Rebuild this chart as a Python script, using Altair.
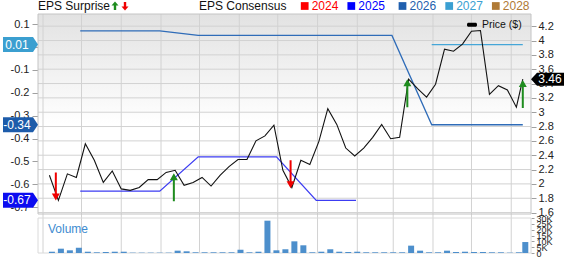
import altair as alt
import pandas as pd

# ---------------- data ----------------
price_dates = [
    "2025-06-06", "2025-06-13", "2025-06-20", "2025-06-27",
    "2025-07-04", "2025-07-11", "2025-07-18", "2025-07-25",
    "2025-08-01", "2025-08-08", "2025-08-15", "2025-08-22", "2025-08-29",
    "2025-09-05", "2025-09-12", "2025-09-19", "2025-09-26",
    "2025-10-03", "2025-10-10", "2025-10-17", "2025-10-24", "2025-10-31",
    "2025-11-07", "2025-11-14", "2025-11-21", "2025-11-28",
    "2025-12-05", "2025-12-12", "2025-12-19", "2025-12-26",
    "2026-01-02", "2026-01-09", "2026-01-16", "2026-01-23", "2026-01-30",
    "2026-02-06", "2026-02-13", "2026-02-20", "2026-02-27",
    "2026-03-06", "2026-03-13", "2026-03-20", "2026-03-27",
    "2026-04-03", "2026-04-10", "2026-04-17", "2026-04-24",
    "2026-05-01", "2026-05-08", "2026-05-15", "2026-05-22", "2026-05-29",
    "2026-06-05", "2026-06-10",
]
price_values = [
    2.12, 1.77, 2.14, 2.09, 2.56, 2.33, 2.02, 2.18, 1.93, 1.91,
    1.95, 2.06, 2.06, 2.16, 2.19, 1.98, 2.02, 2.09, 1.97, 2.12,
    2.24, 2.34, 2.34, 2.60, 2.67, 2.82, 2.19, 1.95, 2.33, 2.27,
    2.59, 3.05, 2.83, 2.50, 2.39, 2.50, 2.65, 2.83, 2.63, 2.65,
    3.46, 3.33, 3.21, 3.39, 3.88, 3.85, 3.95, 4.13, 4.14, 3.25,
    3.37, 3.31, 3.07, 3.46,
]
volume_values = [
    1100, 3700, 2300, 4500, 1100, 600, 850, 1100, 1100, 300,
    300, 300, 300, 300, 2000, 1450, 600, 600, 600, 600,
    600, 2800, 600, 1100, 27700, 2300, 3200, 10000, 6600, 600,
    1100, 3200, 1100, 850, 1100, 600, 600, 600, 600, 600,
    6300, 2000, 600, 600, 2000, 850, 1100, 850, 850, 600,
    600, 300, 600, 9400,
]

consensus_dates = {
    "2025": ["2025-06-30", "2025-07-31", "2025-08-31", "2025-09-30",
             "2025-10-31", "2025-11-30", "2025-12-31", "2026-01-31"],
    "2026": ["2025-06-30", "2025-07-31", "2025-08-31", "2025-09-30",
             "2025-10-31", "2025-11-30", "2025-12-31", "2026-01-31",
             "2026-02-28", "2026-03-31", "2026-04-30", "2026-05-31", "2026-06-10"],
    "2027": ["2026-03-31", "2026-04-30", "2026-05-31", "2026-06-10"],
}
consensus_values = {
    "2025": [-0.63, -0.63, -0.63, -0.48, -0.48, -0.48, -0.67, -0.67],
    "2026": [0.07, 0.07, 0.07, 0.05, 0.05, 0.05, 0.05, 0.05, 0.05,
             -0.34, -0.34, -0.34, -0.34],
    "2027": [0.01, 0.01, 0.01, 0.01],
}

surprise_dates = ["2025-06-11", "2025-09-11", "2025-12-11", "2026-03-12", "2026-06-10"]
surprise_price = [1.77, 2.15, 1.94, 3.46, 3.45]
surprise_dir = ["down", "up", "down", "up", "up"]

badge_years = ["2027", "2026", "2025"]
badge_values = [0.01, -0.34, -0.67]
badge_labels = ["0.01", "-0.34", "-0.67"]
last_price = 3.46
last_price_label = "3.46"

legend_years = ["2024", "2025", "2026", "2027", "2028"]

month_ticks = ["2025-06-01", "2025-07-01", "2025-08-01", "2025-09-01", "2025-10-01",
               "2025-11-01", "2025-12-01", "2026-01-01", "2026-02-01", "2026-03-01",
               "2026-04-01", "2026-05-01", "2026-06-01"]
price_ticks = [1.6, 1.8, 2, 2.2, 2.4, 2.6, 2.8, 3, 3.2, 3.4, 3.6, 3.8, 4, 4.2]
eps_ticks = [0.1, 0, -0.1, -0.2, -0.3, -0.4, -0.5, -0.6, -0.7]
volume_ticks = [0, 5000, 10000, 15000, 20000, 25000, 30000]

# ---------------- styles ----------------
YEAR_COLORS = {"2024": "#ff0000", "2025": "#0000ff", "2026": "#1f5fae",
               "2027": "#3a9fd2", "2028": "#b07a35"}
LINE_COLORS = {"2025": "#3c3cf2", "2026": "#2f6cb8", "2027": "#45a6d8"}
BADGE_COLORS = {"2025": "#0c0cf0", "2026": "#1d5caa", "2027": "#3b9fd0"}
GREEN = "#1e8c1e"
RED = "#f00000"
GRID = "#d2d2d2"

W, H = 493, 239
PH = 200          # price panel height
VT = 204          # volume panel top

UP = "M0,0 L4,7 L1,7 L1,28 L-1,28 L-1,7 L-4,7 Z"
DOWN = "M0,0 L4,-7 L1,-7 L1,-28 L-1,-28 L-1,-7 L-4,-7 Z"
UP_S = "M0,-4.5 L3.5,-0.5 L1.2,-0.5 L1.2,4 L-1.2,4 L-1.2,-0.5 L-3.5,-0.5 Z"
DOWN_S = "M0,4.5 L3.5,0.5 L1.2,0.5 L1.2,-4 L-1.2,-4 L-1.2,0.5 L-3.5,0.5 Z"
BADGE_L = "M0,0 L-5,-7.5 L-35,-7.5 L-35,7.5 L-5,7.5 Z"
BADGE_R = "M0,0 L6,-6.5 L33,-6.5 L33,6.5 L6,6.5 Z"

x_scale = alt.Scale(type="utc", domain=[
    alt.DateTime(year=2025, month=6, date=1, utc=True),
    alt.DateTime(year=2026, month=6, date=12, hours=12, utc=True)])
price_scale = alt.Scale(domain=[1.58, 4.37], range=[PH, 0], nice=False, zero=False)
eps_scale = alt.Scale(domain=[-0.7297, 0.1437], range=[PH, 0], nice=False, zero=False)
vol_scale = alt.Scale(domain=[0, 30000], range=[H, VT], nice=False)

one = pd.DataFrame({"k": [0]})


def X(field="date"):
    return alt.X(f"{field}:T", scale=x_scale, axis=None)


layers = []

# gradient background of price panel
grad = alt.LinearGradient(gradient="linear", x1=0, x2=0, y1=0, y2=1,
                          stops=[alt.GradientStop(color="#e2e2e2", offset=0),
                                 alt.GradientStop(color="#ffffff", offset=0.55)])
layers.append(alt.Chart(one).mark_rect(fill=grad).encode(
    x=alt.value(0), x2=alt.value(W), y=alt.value(0), y2=alt.value(PH)))

# vertical month grid
months_df = pd.DataFrame({"date": month_ticks})
layers.append(alt.Chart(months_df).mark_rule(color=GRID, strokeWidth=1).encode(
    x=X(), y=alt.value(0), y2=alt.value(H)))

# horizontal price grid
pt_df = pd.DataFrame({"p": price_ticks})
layers.append(alt.Chart(pt_df).mark_rule(color=GRID, strokeWidth=1).encode(
    y=alt.Y("p:Q", scale=price_scale, axis=None)))

# panel frames
layers.append(alt.Chart(one).mark_rect(fillOpacity=0, stroke="#c4c4c4", strokeWidth=1).encode(
    x=alt.value(0), x2=alt.value(W), y=alt.value(0), y2=alt.value(PH)))
layers.append(alt.Chart(one).mark_rect(fillOpacity=0, stroke="#dadada", strokeWidth=1).encode(
    x=alt.value(0), x2=alt.value(W), y=alt.value(VT), y2=alt.value(H)))

# consensus lines (left EPS axis)
eps_axis = alt.Axis(orient="left", values=eps_ticks, labelExpr="'' + datum.value",
                    grid=False, domain=False, tickSize=6, tickColor="#a0a0a0",
                    labelFontSize=11, labelColor="#222", labelPadding=3,
                    labelOverlap=False, title=None)
first = True
for yr in ["2025", "2026", "2027"]:
    df = pd.DataFrame({"date": consensus_dates[yr], "eps": consensus_values[yr]})
    layers.append(alt.Chart(df).mark_line(color=LINE_COLORS[yr], strokeWidth=1.3).encode(
        x=X(), y=alt.Y("eps:Q", scale=eps_scale, axis=eps_axis if first else None)))
    first = False

# price line (right axis)
price_df = pd.DataFrame({"date": price_dates, "price": price_values})
price_axis = alt.Axis(orient="right", values=price_ticks, labelExpr="'' + datum.value",
                      grid=False, domain=False, tickSize=5, tickColor="#a0a0a0",
                      labelFontSize=11, labelColor="#222", labelPadding=2,
                      labelOverlap=False, title=None)
layers.append(alt.Chart(price_df).mark_line(color="#111111", strokeWidth=1.1).encode(
    x=X(), y=alt.Y("price:Q", scale=price_scale, axis=price_axis)))

# EPS surprise arrows
sur_df = pd.DataFrame({"date": surprise_dates, "p": surprise_price, "dir": surprise_dir})
for d, shape, col in [("up", UP, GREEN), ("down", DOWN, RED)]:
    layers.append(alt.Chart(sur_df[sur_df["dir"] == d]).mark_point(
        shape=shape, size=4, filled=True, color=col, opacity=1, strokeWidth=0).encode(
        x=X(), y=alt.Y("p:Q", scale=price_scale, axis=None)))

# left consensus badges
for yr, v, lab in zip(badge_years, badge_values, badge_labels):
    bdf = pd.DataFrame({"v": [v], "lab": [lab]})
    layers.append(alt.Chart(bdf).mark_point(
        shape=BADGE_L, size=4, filled=True, color=BADGE_COLORS[yr], opacity=1, strokeWidth=0).encode(
        x=alt.value(0), y=alt.Y("v:Q", scale=eps_scale, axis=None)))
    layers.append(alt.Chart(bdf).mark_text(color="white", fontSize=12, align="center",
                                           baseline="middle").encode(
        x=alt.value(-21), y=alt.Y("v:Q", scale=eps_scale, axis=None), text="lab:N"))

# right last-price badge
lp_df = pd.DataFrame({"p": [last_price], "lab": [last_price_label]})
layers.append(alt.Chart(lp_df).mark_point(
    shape=BADGE_R, size=4, filled=True, color="#000000", opacity=1, strokeWidth=0).encode(
    x=alt.value(W), y=alt.Y("p:Q", scale=price_scale, axis=None)))
layers.append(alt.Chart(lp_df).mark_text(color="white", fontSize=12, align="center",
                                         baseline="middle").encode(
    x=alt.value(W + 19), y=alt.Y("p:Q", scale=price_scale, axis=None), text="lab:N"))

# volume bars (bottom x axis + volume axis)
vol_df = pd.DataFrame({"date": price_dates, "vol": volume_values})
x_axis = alt.Axis(orient="bottom", tickCount={"interval": "month", "step": 1},
                  labelExpr="utcFormat(datum.value, '%m') == '01' ? utcFormat(datum.value, '%Y') : utcFormat(datum.value, '%b')",
                  grid=False, ticks=False, tickSize=0, labelPadding=3, labelFontSize=10,
                  labelColor="#222", domainColor="#a8a8a8", labelFlush=False,
                  labelOverlap=False, title=None)
vol_axis = alt.Axis(orient="right", values=volume_ticks,
                    labelExpr="datum.value == 0 ? '0' : (datum.value / 1000) + 'K'",
                    grid=False, domain=False, tickSize=3, tickColor="#a0a0a0",
                    labelFontSize=9, labelColor="#222", labelPadding=2,
                    labelOverlap=False, title=None)
layers.append(alt.Chart(vol_df).mark_bar(color="#4d8fcc", size=6, xOffset=2.5, clip=True).encode(
    x=alt.X("date:T", scale=x_scale, axis=x_axis),
    y=alt.Y("vol:Q", scale=vol_scale, axis=vol_axis)))

layers.append(alt.Chart(one).mark_text(text="Volume", color="#3d8bd0", fontSize=12,
                                       align="left", baseline="alphabetic").encode(
    x=alt.value(10), y=alt.value(219)))

# header legends
layers.append(alt.Chart(one).mark_text(text="EPS Surprise", color="#111", fontSize=12,
                                       align="left", baseline="alphabetic").encode(
    x=alt.value(0), y=alt.value(-4)))
layers.append(alt.Chart(one).mark_point(shape=UP_S, size=4, filled=True, color=GREEN,
                                        opacity=1, strokeWidth=0).encode(
    x=alt.value(77), y=alt.value(-8)))
layers.append(alt.Chart(one).mark_point(shape=DOWN_S, size=4, filled=True, color=RED,
                                        opacity=1, strokeWidth=0).encode(
    x=alt.value(87), y=alt.value(-8)))
layers.append(alt.Chart(one).mark_text(text="EPS Consensus", color="#111", fontSize=12,
                                       align="left", baseline="alphabetic").encode(
    x=alt.value(161), y=alt.value(-4)))
sq_x = [266.7, 313.3, 364.5, 411.2, 457.8]
for yr, sx in zip(legend_years, sq_x):
    layers.append(alt.Chart(one).mark_square(size=60, color=YEAR_COLORS[yr], opacity=1).encode(
        x=alt.value(sx), y=alt.value(-8)))
    layers.append(alt.Chart(one).mark_text(text=yr, color=YEAR_COLORS[yr], fontSize=12,
                                           align="left", baseline="alphabetic").encode(
        x=alt.value(sx + 7), y=alt.value(-4)))

# price legend in plot
layers.append(alt.Chart(one).mark_rect(color="#000000", cornerRadius=1.5).encode(
    x=alt.value(429), x2=alt.value(439), y=alt.value(8.7), y2=alt.value(12.7)))
layers.append(alt.Chart(one).mark_text(text="Price ($)", color="#111", fontSize=10.5,
                                       align="left", baseline="middle").encode(
    x=alt.value(444), y=alt.value(11)))

chart = alt.layer(*layers).resolve_scale(y="independent").properties(
    width=W, height=H,
    autosize=alt.AutoSizeParams(type="none"),
    padding={"left": 38, "top": 14, "right": 34, "bottom": 13},
).configure(font="Liberation Sans", background="white").configure_view(stroke=None)

chart.save("out.html", embed_options={"renderer": "svg", "actions": False})
